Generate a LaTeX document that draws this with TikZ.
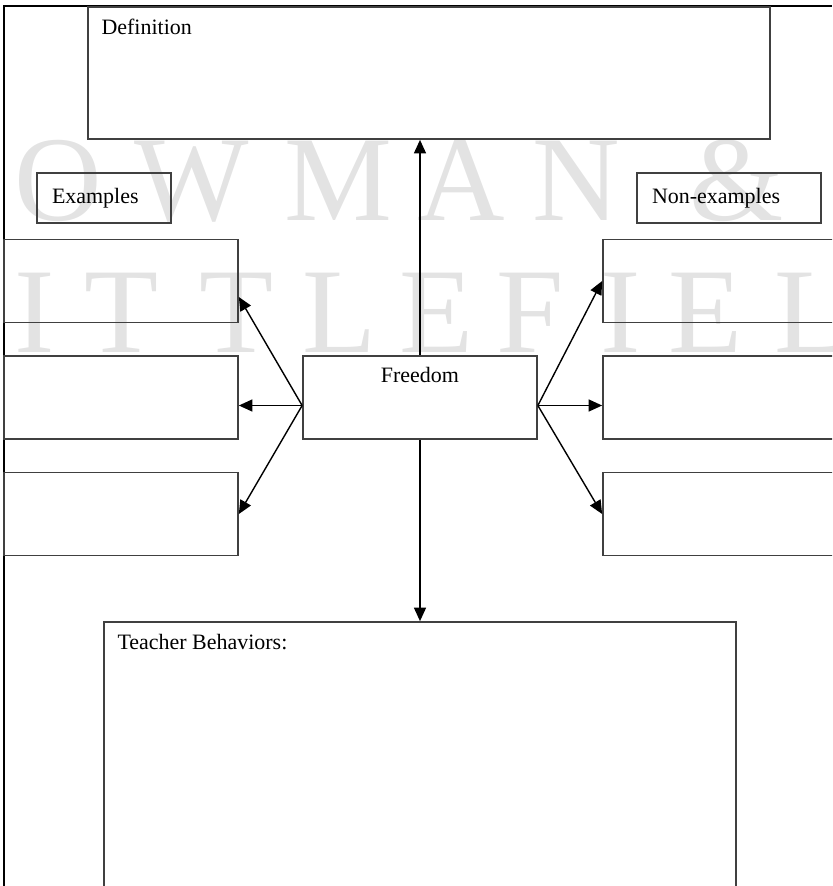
\documentclass[tikz,border=0pt]{standalone}
\usepackage{fontspec}
\setmainfont{Liberation Serif}
\usetikzlibrary{arrows.meta}

\begin{document}
\begin{tikzpicture}[x=0.02cm,y=-0.02cm,>={Triangle[length=0.27cm,width=0.24cm]},
  font=\fontsize{12.5}{15}\selectfont,
  box/.style={draw=black!75,line width=1pt,inner sep=0pt},
  slot/.style={box,minimum width=4.68cm,minimum height=1.66cm},
  head/.style={box,minimum height=1cm,inner xsep=0.3cm,align=left},
  corner/.style={anchor=north west,inner sep=0pt,xshift=0.28cm,yshift=-0.26cm},
  wmark/.style={text=black!11,font=\fontsize{69}{69}\selectfont,anchor=base,inner sep=0pt},
  link/.style={->,line width=0.8pt}]
  \useasboundingbox (0,0) rectangle (832,886);
  \clip (0,0) rectangle (832,886);

  % watermark behind the sheet
  \foreach \ch/\cx in {O/58,W/192,M/338,A/461,N/576,\&/737}
    \node[wmark] (wa\cx) at (\cx,220) {\ch};
  \foreach \ch/\cx in {I/35,T/122,T/237,L/340,E/437,F/530,I/621,E/706,L/812}
    \node[wmark] (wb\cx) at (\cx,352) {\ch};

  \draw[line width=1pt] (4,886) -- (4,6) -- (832,6);

  \node[box,minimum width=13.64cm,minimum height=2.64cm,label={[corner]north west:Definition}] (def) at (429,73) {};
  \node[head,text width=2.08cm] (ex) at (104,198) {Examples};
  \node[head,text width=3.08cm] (nonex) at (729,198) {Non-examples};

  \node[slot,label={[anchor=north,inner sep=0pt,yshift=-0.24cm]north:Freedom}] (free) at (420,397.5) {};
  \foreach \i/\cy in {1/281,2/397.5,3/514} {
    \node[slot] (ex\i) at (121,\cy) {};
    \node[slot] (non\i) at (720,\cy) {};
  }

  \node[box,minimum width=12.64cm,minimum height=6cm,label={[corner]north west:{Teacher Behaviors:}}] (tb) at (420,772) {};

  \coordinate (fl) at ([yshift=-0.16cm]free.west);
  \coordinate (fr) at ([yshift=-0.16cm]free.east);
  \draw[link] (fl) -- ([yshift=-0.32cm]ex1.east);
  \draw[link] (fl) -- ([yshift=-0.16cm]ex2.east);
  \draw[link] (fl) -- (ex3.east);
  \draw[link] (fr) -- (non1.west);
  \draw[link] (fr) -- ([yshift=-0.16cm]non2.west);
  \draw[link] (fr) -- (non3.west);
  \draw[link] (free.north) -- (free.north |- def.south);
  \draw[link] (free.south) -- (tb.north);
\end{tikzpicture}
\end{document}
